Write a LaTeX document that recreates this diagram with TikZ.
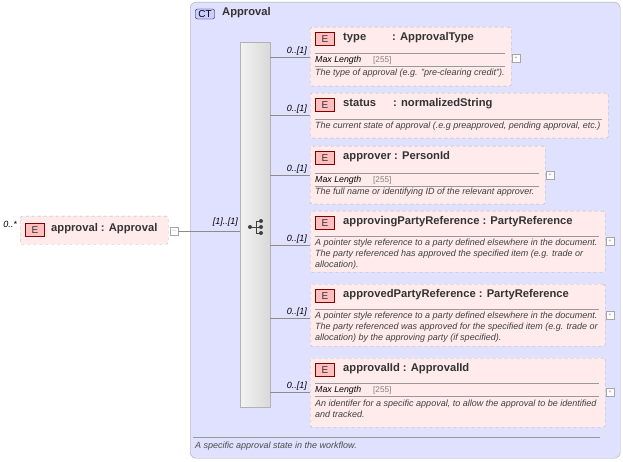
\documentclass[tikz,border=0pt]{standalone}
\usepackage{fontspec}
\setmainfont{Liberation Sans}
\begin{document}
\begin{tikzpicture}[x=1pt,y=-1pt,
  el/.style={draw=black!30,dashed,fill=red!8,rounded corners=1.5pt},
  eicon/.style={draw=red!50!black,fill=red!25,minimum width=19pt,minimum height=13pt,inner sep=0pt,font=\fontsize{10}{10}\selectfont,text=black!80},
  ttl/.style={anchor=west,font=\bfseries\fontsize{11.2}{12}\selectfont,text=black!80,inner sep=0pt},
  ml/.style={anchor=west,font=\itshape\fontsize{8.8}{10}\selectfont,inner sep=0pt},
  mlv/.style={anchor=west,font=\fontsize{8.2}{10}\selectfont,text=black!50,inner sep=0pt},
  ds/.style={anchor=north west,font=\itshape\fontsize{9}{10.8}\selectfont,text=black!75,inner sep=0pt,align=left},
  card/.style={anchor=south east,font=\itshape\fontsize{9}{10}\selectfont,inner sep=1pt},
  sep/.style={draw=black!40},
  conn/.style={draw=black!45},
  pbox/.style={draw=black!35,fill=white,minimum size=8pt,inner sep=0pt,font=\tiny,text=black!50}]
\useasboundingbox (0,0) rectangle (623,462);
% CT box
\node[draw=black!35,fill=blue!12,rounded corners=6pt,minimum width=430pt,minimum height=456pt,anchor=north west,inner sep=0pt] (ct) at (190,2) {};
\node[draw=blue!40!black,fill=blue!20,rounded corners=2pt,font=\fontsize{10}{10}\selectfont,inner sep=1.5pt,minimum width=19pt] (cti) at (205,14) {CT};
\node[ttl] (ctt) at (222,13) {Approval};
\draw[sep] (193,437) -- (600,437);
\node[anchor=west,font=\itshape\fontsize{9}{10}\selectfont,text=black!70,inner sep=0pt] (ctd) at (195,446) {A specific approval state in the workflow.};
% sequence bar
\node[draw=black!30,left color=black!5,right color=black!15,minimum width=30pt,minimum height=365pt,anchor=north west,inner sep=0pt] (seq) at (240,42) {};
\fill[black!75] (250,227) circle (2) (261,221) circle (2) (261,227) circle (2) (261,233) circle (2);
\draw[black!75,thick] (250,227) -- (256,227) (256,221) -- (256,233) (256,221) -- (261,221) (256,227)--(261,227) (256,233)--(261,233);
% approval element
\node[el,minimum width=148pt,minimum height=28pt,anchor=north west,inner sep=0pt] (ap) at (20,216) {};
\node[eicon] (ape) at (35,230) {E};
\node[ttl] (apt) at (51,229) {approval : Approval};
\node[anchor=south east,font=\itshape\fontsize{9}{10}\selectfont,inner sep=1pt] (apc) at (18,229) {0..*};
\node[pbox] (apm) at (174,231) {$-$};
\coordinate (sj) at (240,231);
\draw[conn] (apm.east) -- (sj);
\node[card] at (239,228) {[1]..[1]};
% children
\newcommand{\child}[9]{%
 \node[el,anchor=north west,minimum width=#3pt-310pt,minimum height=#4pt-#2pt,inner sep=0pt] (#1) at (310,#2) {};
 \node[eicon] (#1e) at (325,#2+12) {E};
 \node[ttl] (#1t) at (343,#2+11) {#5};
 \draw[conn] (seq.east |- 0,#6) -- (#1.west |- 0,#6);
 \node[card] (#1c) at (308,#6) {0..[1]};
 #7#8#9}
\child{c1}{27}{511}{86}{type\hspace{26pt}: ApprovalType}{57}
 {\draw[sep] (315,53)--(505,53) (315,66)--(505,66);
  \node[ml] at (315,60) {Max Length}; \node[mlv] at (373,60) {[255]};}
 {\node[ds] at (315,69) {The type of approval (e.g. "pre-clearing credit").};}
 {\node[pbox] at (516,58) {+};}
\child{c2}{93}{608}{138}{status\hspace{17pt}: normalizedString}{115}
 {\draw[sep] (315,119)--(602,119);}
 {\node[ds] at (315,122) {The current state of approval (.e.g preapproved, pending approval, etc.)};}
 {}
\child{c3}{146}{545}{204}{approver : PersonId}{175}
 {\draw[sep] (315,173)--(539,173) (315,186)--(539,186);
  \node[ml] at (315,180) {Max Length}; \node[mlv] at (373,180) {[255]};}
 {\node[ds] at (315,188) {The full name or identifying ID of the relevant approver.};}
 {\node[pbox] at (550,175) {+};}
\child{c4}{211}{605}{272}{approvingPartyReference : PartyReference}{245}
 {\draw[sep] (315,236)--(599,236);}
 {\node[ds] at (315,239) {A pointer style reference to a party defined elsewhere in the document.\\The party referenced has approved the specified item (e.g. trade or\\allocation).};}
 {\node[pbox] at (610,241) {+};}
\child{c5}{284}{605}{346}{approvedPartyReference : PartyReference}{318}
 {\draw[sep] (315,309)--(599,309);}
 {\node[ds] at (315,312) {A pointer style reference to a party defined elsewhere in the document.\\The party referenced was approved for the specified item (e.g. trade or\\allocation) by the approving party (if specified).};}
 {\node[pbox] at (610,315) {+};}
\child{c6}{358}{605}{427}{approvalId : ApprovalId}{392}
 {\draw[sep] (315,383)--(599,383) (315,396)--(599,396);
  \node[ml] at (315,390) {Max Length}; \node[mlv] at (373,390) {[255]};}
 {\node[ds] at (315,400) {An identifer for a specific appoval, to allow the approval to be identified\\and tracked.};}
 {\node[pbox] at (610,392) {+};}
\end{tikzpicture}
\end{document}
